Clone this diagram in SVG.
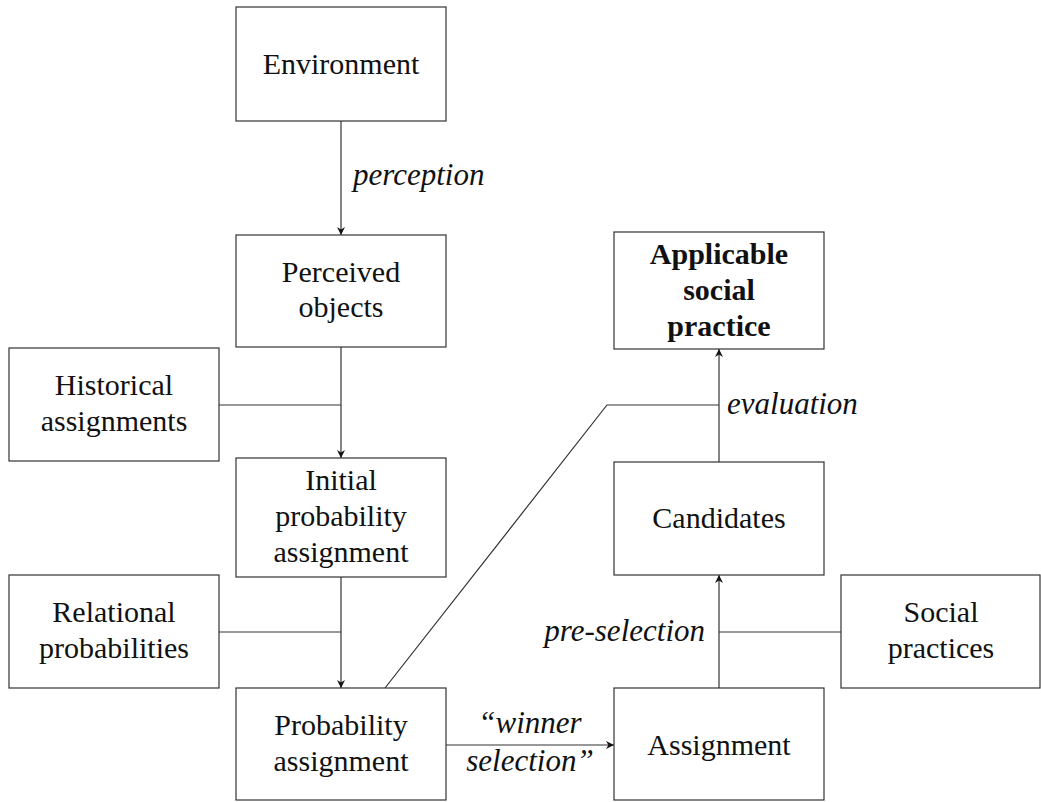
<svg xmlns="http://www.w3.org/2000/svg" width="1041" height="802" viewBox="0 0 1041 802">
<style>
text{font-family:"Liberation Serif","Times New Roman",Tinos,"DejaVu Serif","Noto Serif",FreeSerif,Times,serif}
.box{fill:#fff;stroke:#333;stroke-width:1.2}
.t{font-size:30px;fill:#111;text-anchor:middle}
.b{font-weight:bold}
.i{font-size:31px;font-style:italic;fill:#111}
.ln{fill:none;stroke:#333;stroke-width:1.2}
</style>
<defs>
<marker id="ah" viewBox="0 0 10 10" refX="10" refY="5" markerWidth="8" markerHeight="8" markerUnits="userSpaceOnUse" orient="auto">
<path d="M0,0 L10,5 L0,10 L3,5 Z" fill="#111"/>
</marker>
</defs>
<g id="connectors">
<line class="ln" x1="341" y1="121" x2="341" y2="235" marker-end="url(#ah)"/>
<line class="ln" x1="341" y1="347" x2="341" y2="458" marker-end="url(#ah)"/>
<line class="ln" x1="219" y1="405" x2="341" y2="405"/>
<line class="ln" x1="341" y1="577" x2="341" y2="688" marker-end="url(#ah)"/>
<line class="ln" x1="219" y1="632" x2="341" y2="632"/>
<line class="ln" x1="446" y1="745" x2="614" y2="745" marker-end="url(#ah)"/>
<line class="ln" x1="719" y1="688" x2="719" y2="575" marker-end="url(#ah)"/>
<line class="ln" x1="841" y1="632" x2="719" y2="632"/>
<line class="ln" x1="719" y1="462" x2="719" y2="349" marker-end="url(#ah)"/>
<polyline class="ln" points="385,688 607,405 719,405"/>
<text class="i" x="353" y="185">perception</text>
<text class="i" x="727" y="414">evaluation</text>
<text class="i" x="705" y="641" text-anchor="end">pre-selection</text>
<text class="i" x="530" y="733" text-anchor="middle">“winner</text>
<text class="i" x="530" y="771" text-anchor="middle">selection”</text>
</g>
<g id="environment">
<rect class="box" x="236" y="7" width="210" height="114"/>
<text class="t" x="341" y="74">Environment</text>
</g>
<g id="perceived">
<rect class="box" x="236" y="235" width="210" height="112"/>
<text class="t" x="341" y="282">Perceived</text>
<text class="t" x="341" y="317">objects</text>
</g>
<g id="historical">
<rect class="box" x="9" y="348" width="210" height="113"/>
<text class="t" x="114" y="395">Historical</text>
<text class="t" x="114" y="431">assignments</text>
</g>
<g id="initial">
<rect class="box" x="236" y="458" width="210" height="119"/>
<text class="t" x="341" y="490">Initial</text>
<text class="t" x="341" y="526">probability</text>
<text class="t" x="341" y="562">assignment</text>
</g>
<g id="relational">
<rect class="box" x="9" y="575" width="210" height="113"/>
<text class="t" x="114" y="622">Relational</text>
<text class="t" x="114" y="658">probabilities</text>
</g>
<g id="probability">
<rect class="box" x="236" y="688" width="210" height="112"/>
<text class="t" x="341" y="735">Probability</text>
<text class="t" x="341" y="771">assignment</text>
</g>
<g id="applicable">
<rect class="box" x="614" y="232" width="210" height="117"/>
<text class="t b" x="719" y="264">Applicable</text>
<text class="t b" x="719" y="300">social</text>
<text class="t b" x="719" y="336">practice</text>
</g>
<g id="candidates">
<rect class="box" x="614" y="462" width="210" height="113"/>
<text class="t" x="719" y="528">Candidates</text>
</g>
<g id="social">
<rect class="box" x="841" y="575" width="199" height="113"/>
<text class="t" x="941" y="622">Social</text>
<text class="t" x="941" y="658">practices</text>
</g>
<g id="assignment">
<rect class="box" x="614" y="688" width="210" height="112"/>
<text class="t" x="719" y="755">Assignment</text>
</g>
</svg>
